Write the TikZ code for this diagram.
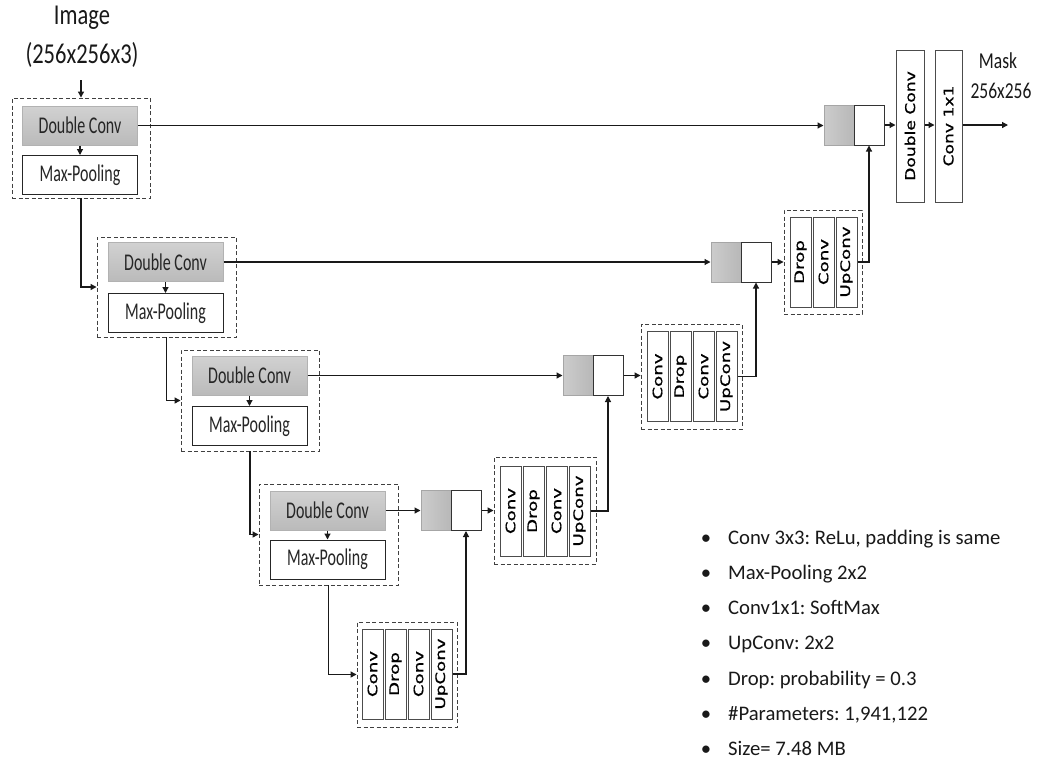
\documentclass[tikz,border=0pt]{standalone}
\usepackage{graphicx}
\usepackage{fontspec}
\setmainfont{Carlito}
\newfontfamily\dvs[FakeBold=0.7]{DejaVu Sans}
\usetikzlibrary{arrows.meta,fit}
\frenchspacing
\newcommand\vstr[1]{\scalebox{1}[1.5]{#1}}
\newcommand\rlab[1]{\rotatebox{90}{\scalebox{1.4}[1]{\dvs\fontsize{13}{15}\selectfont #1}}}
\newcommand\rlabbig[1]{\rotatebox{90}{\scalebox{1.27}[1]{\dvs\fontsize{13.5}{15}\selectfont #1}}}
\begin{document}
\begin{tikzpicture}[x=1pt,y=-1pt,
  arr/.style={-{Triangle[length=6pt,width=6pt]}, line width=1.2pt, draw=black!90},
  dbox/.style={draw=black!75, dash pattern=on 4pt off 2.5pt, line width=0.9pt, inner sep=0pt},
  gbox/.style={draw=black!30, top color=black!18, bottom color=black!27, minimum width=115pt, minimum height=39pt, inner sep=0pt, line width=1pt, font=\fontsize{16}{18}\selectfont, text=black!85},
  wbox/.style={draw=black!85, fill=white, minimum width=115pt, minimum height=39pt, inner sep=0pt, line width=1pt, font=\fontsize{16}{18}\selectfont, text=black!85},
  cgray/.style={draw=black!35, left color=black!20, right color=black!28, minimum width=30pt, minimum height=40pt, inner sep=0pt, line width=1pt},
  cwhite/.style={draw=black!80, fill=white, minimum width=30pt, minimum height=40pt, inner sep=0pt, line width=1pt},
  vbox/.style={draw=black!70, fill=white, minimum width=21pt, minimum height=90pt, inner sep=0pt, line width=1pt},
  fbox/.style={draw=black!70, fill=white, minimum height=152pt, inner sep=0pt, line width=1pt},
  ttl/.style={font=\fontsize{22.5}{24}\selectfont, text=black!90, inner sep=0pt},
  lbl/.style={font=\fontsize{17.5}{19}\selectfont, text=black!90, inner sep=0pt},
  bul/.style={font=\fontsize{20.7}{24}\selectfont, text=black!90, inner sep=0pt}
]
\useasboundingbox (0,0) rectangle (1039,764);
\fill[white] (0,0) rectangle (1039,764);

% title
\node[ttl] (t1) at (82,18) {\scalebox{1}[1.28]{Image}};
\node[ttl] (t2) at (82,55) {\scalebox{1}[1.28]{(256x256x3)}};
\coordinate (ti) at (81,80);

% encoder blocks
\node[gbox] (dc1) at (80,125.5) {\vstr{Double Conv}};
\node[wbox] (mp1) at (80,175) {\vstr{Max-Pooling}};
\node[dbox, fit={(12,98)(150,198)}] (e1) {};

\node[gbox] (dc2) at (165.5,262) {\vstr{Double Conv}};
\node[wbox] (mp2) at (165.5,313) {\vstr{Max-Pooling}};
\node[dbox, fit={(97,237)(236,337)}] (e2) {};

\node[gbox] (dc3) at (249.5,375.5) {\vstr{Double Conv}};
\node[wbox] (mp3) at (249.5,426) {\vstr{Max-Pooling}};
\node[dbox, fit={(181,350)(319,451)}] (e3) {};

\node[gbox] (dc4) at (327.5,510.5) {\vstr{Double Conv}};
\node[wbox] (mp4) at (327.5,559.5) {\vstr{Max-Pooling}};
\node[dbox, fit={(259,484)(398,585)}] (e4) {};

% bottleneck
\node[vbox] (b1) at (372.5,674) {\rlab{Conv}};
\node[vbox] (b2) at (395.5,674) {\rlab{Drop}};
\node[vbox] (b3) at (418.5,674) {\rlab{Conv}};
\node[vbox] (b4) at (441.5,674) {\rlab{UpConv}};
\node[dbox, fit={(357,622)(457,727)}] (bn) {};

% decoder level 4
\node[cgray] (c4g) at (436,510.5) {};
\node[cwhite] (c4w) at (466,510.5) {};
\node[vbox] (d41) at (510.5,511) {\rlab{Conv}};
\node[vbox] (d42) at (533.5,511) {\rlab{Drop}};
\node[vbox] (d43) at (556.5,511) {\rlab{Conv}};
\node[vbox] (d44) at (579.5,511) {\rlab{UpConv}};
\node[dbox, fit={(494,457)(596,564)}] (d4) {};

% decoder level 3
\node[cgray] (c3g) at (578,375.5) {};
\node[cwhite] (c3w) at (608,375.5) {};
\node[vbox] (d31) at (657.5,376.5) {\rlab{Conv}};
\node[vbox] (d32) at (680.5,376.5) {\rlab{Drop}};
\node[vbox] (d33) at (703.5,376.5) {\rlab{Conv}};
\node[vbox] (d34) at (726.5,376.5) {\rlab{UpConv}};
\node[dbox, fit={(641,324)(742,429)}] (d3) {};

% decoder level 2
\node[cgray] (c2g) at (726,262) {};
\node[cwhite] (c2w) at (756,262) {};
\node[vbox] (d21) at (800.5,262) {\rlab{Drop}};
\node[vbox] (d22) at (823.5,262) {\rlab{Conv}};
\node[vbox] (d23) at (846.5,262) {\rlab{UpConv}};
\node[dbox, fit={(784,210)(862,314)}] (d2) {};

% decoder level 1
\node[cgray] (c1g) at (839,125) {};
\node[cwhite] (c1w) at (869,125) {};
\node[fbox, minimum width=28pt] (fdc) at (910,126) {\rlabbig{Double Conv}};
\node[fbox, minimum width=27pt] (fc) at (948.5,126) {\rlabbig{Conv 1x1}};
\coordinate (out) at (1008,125);
\node[lbl] (m1) at (998,61) {\scalebox{1}[1.3]{Mask}};
\node[lbl] (m2) at (1001,91) {\scalebox{1}[1.3]{256x256}};

% connectors: encoder
\draw[arr] (ti) -- (e1.north);
\foreach \i in {1,2,3,4} { \draw[arr] (dc\i.south) -- (mp\i.north); }
\draw[arr] (e1.south) |- (e2.west);
\draw[arr] (e2.south) |- (e3.west);
\draw[arr] (e3.south) |- (e4.west);
\draw[arr] (e4.south) |- (bn.west);

% connectors: decoder
\draw[arr] (b4.east) -| (c4w.south);
\draw[arr] (dc4.east) -- (c4g.west |- dc4.east);
\draw[arr] (c4w.east) -- (c4w.east -| d4.west);
\draw[arr] (d44.east) -| (c3w.south);
\draw[arr] (dc3.east) -- (c3g.west |- dc3.east);
\draw[arr] (c3w.east) -- (c3w.east -| d3.west);
\draw[arr] (d34.east) -| (c2w.south);
\draw[arr] (dc2.east) -- (c2g.west |- dc2.east);
\draw[arr] (c2w.east) -- (c2w.east -| d2.west);
\draw[arr] (d23.east) -| (c1w.south);
\draw[arr] (dc1.east) -- (c1g.west |- dc1.east);
\draw[arr] (c1w.east) -- (c1w.east -| fdc.west);
\draw[arr] (fdc.east |- c1w.east) -- (fc.west |- c1w.east);
\draw[arr] (fc.east |- c1w.east) -- (out);

% notes
\foreach \t [count=\i] in {{Conv 3x3: ReLu, padding is same},{Max-Pooling 2x2},{Conv1x1: SoftMax},{UpConv: 2x2},{Drop: probability = 0.3},{\#Parameters: 1,941,122},{Size= 7.48 MB}} {
  \pgfmathsetmacro\yy{544+35.3*(\i-1)}
  \node[bul, anchor=base] (bb\i) at (706,\yy) {\textbullet};
  \node[bul, anchor=base west] (bt\i) at (728,\yy) {\t};
}
\end{tikzpicture}
\end{document}
